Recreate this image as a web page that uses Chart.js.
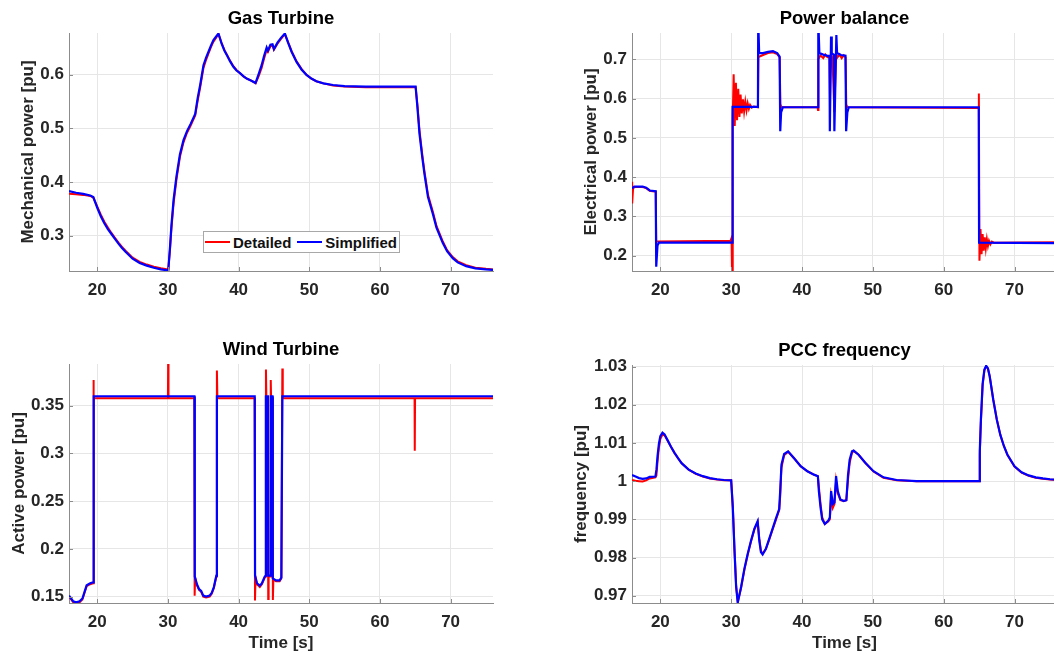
<!DOCTYPE html>
<html>
<head>
<meta charset="utf-8">
<title>Detailed vs simplified model</title>
<script src="https://cdn.jsdelivr.net/npm/chart.js@4.4.1/dist/chart.umd.min.js"></script>
<style>
  html, body { margin: 0; padding: 0; background: #fff; overflow: hidden; }
  body { width: 1054px; height: 655px; position: relative; font-family: "Liberation Sans", Arial, sans-serif; }
  canvas { position: absolute; }
  #legend-gt {
    position: absolute; left: 203px; top: 231px; width: 195px; height: 20px;
    border: 1px solid #a8a8a8; background: #fff;
    display: flex; align-items: center;
    font: bold 15px "Liberation Sans", Arial, sans-serif; color: #111;
  }
  #legend-gt .sw { display: inline-block; width: 25px; height: 2px; margin: 0 3px 0 1px; }
  #legend-gt .item { display: flex; align-items: center; margin-right: 5px; }
</style>
</head>
<body>
<canvas id="chart-gt"  width="527" height="310" style="left:0;top:0"></canvas>
<canvas id="chart-pb"  width="540" height="310" style="left:527px;top:0"></canvas>
<canvas id="chart-wt"  width="527" height="345" style="left:0;top:310px"></canvas>
<canvas id="chart-pcc" width="540" height="345" style="left:527px;top:310px"></canvas>
<div id="legend-gt"></div>

<script>
// --- data (time in s, values in pu) ---

const seriesLabels = ["Detailed", "Simplified"];
const xTicks = [20, 30, 40, 50, 60, 70];

// Gas Turbine
const gtTime = [16, 17, 18, 19, 19.44, 20, 20.5, 21, 21.5, 22, 22.5, 23, 23.5, 24, 25, 26, 27, 28, 29, 30.05,
  30.3, 30.5, 30.8, 31.2, 31.7, 32.2, 32.7, 33.2, 33.86, 34.2, 34.56, 35.03, 35.4, 35.74, 36.1, 36.44, 36.8, 37.15,
  37.6, 38, 38.33, 38.8, 39.26, 39.7, 40.2, 40.7, 41.15, 41.8, 42.4, 42.8, 43.26, 43.6, 43.97, 44.15, 44.5, 44.8,
  45.0, 45.5, 46.0, 46.55, 47.0, 47.5, 48.2, 48.9, 49.6, 50.3, 51.0, 52, 53.36, 55, 58, 65.05, 65.3, 65.6, 66.0,
  66.3, 66.8, 67.5, 68, 68.9, 69.5, 70.3, 71, 72.2, 73.5, 75, 76];
const gtDetailed = [0.378, 0.377, 0.376, 0.374, 0.371, 0.354, 0.339, 0.326, 0.315, 0.305, 0.296, 0.287, 0.279, 0.272, 0.259, 0.251, 0.246, 0.242, 0.239, 0.237,
  0.275, 0.314, 0.360, 0.404, 0.447, 0.474, 0.492, 0.505, 0.524, 0.551, 0.576, 0.613, 0.628, 0.640, 0.652, 0.662, 0.669, 0.676,
  0.659, 0.646, 0.638, 0.626, 0.616, 0.609, 0.603, 0.597, 0.593, 0.589, 0.584, 0.596, 0.613, 0.630, 0.647, 0.643, 0.653, 0.655,
  0.647, 0.658, 0.667, 0.676, 0.661, 0.644, 0.625, 0.611, 0.600, 0.593, 0.588, 0.584, 0.580, 0.578, 0.577, 0.577, 0.545, 0.496, 0.450,
  0.420, 0.376, 0.344, 0.318, 0.289, 0.273, 0.260, 0.252, 0.245, 0.240, 0.238, 0.237];
const gtSimplified = [0.383, 0.380, 0.378, 0.375, 0.372, 0.352, 0.336, 0.323, 0.312, 0.303, 0.294, 0.285, 0.277, 0.270, 0.257, 0.249, 0.244, 0.240, 0.237, 0.235,
  0.280, 0.320, 0.367, 0.410, 0.452, 0.478, 0.495, 0.508, 0.527, 0.556, 0.581, 0.618, 0.632, 0.643, 0.655, 0.665, 0.671, 0.677,
  0.658, 0.645, 0.637, 0.625, 0.615, 0.608, 0.603, 0.597, 0.593, 0.589, 0.585, 0.600, 0.618, 0.635, 0.651, 0.645, 0.656, 0.657,
  0.648, 0.660, 0.669, 0.677, 0.660, 0.643, 0.624, 0.610, 0.600, 0.593, 0.588, 0.584, 0.581, 0.579, 0.578, 0.578, 0.540, 0.490, 0.445,
  0.415, 0.372, 0.340, 0.315, 0.286, 0.271, 0.258, 0.250, 0.243, 0.239, 0.237, 0.236];
const gtTicks = [0.3, 0.4, 0.5, 0.6];

// Power balance
const pbTimeDetailed = [16, 16.02, 16.15, 16.3, 17.5, 18, 18.5, 19.35, 19.42, 19.6, 29.9, 30.05, 30.12, 30.22, 30.35, 30.5,
  30.67, 30.83, 31.0, 31.17, 31.33, 31.5, 31.67, 31.83, 32.0, 32.17, 32.33, 32.5, 32.67, 32.9, 33.2, 33.78, 33.85, 34.5,
  35.2, 35.9, 36.5, 36.84, 36.95, 37.1, 42.2, 42.26, 42.32, 42.6, 43.0, 43.3, 43.6, 43.88, 43.95, 44.1, 44.3, 44.57, 44.8,
  45.0, 45.3, 45.6, 45.9, 46.15, 46.25, 46.4, 64.9, 64.97, 65.05, 65.2, 65.35, 65.5, 65.65, 65.8, 65.95, 66.1, 66.25, 66.4,
  66.6, 66.8, 67.1, 76];
const pbDetailed = [0.388, 0.333, 0.370, 0.375, 0.375, 0.372, 0.365, 0.363, 0.236, 0.236, 0.238, 0.245, 0.160, 0.550, 0.662, 0.530,
  0.640, 0.545, 0.625, 0.553, 0.610, 0.562, 0.598, 0.567, 0.592, 0.570, 0.588, 0.574, 0.584, 0.577, 0.580, 0.578, 0.706, 0.711,
  0.716, 0.718, 0.713, 0.705, 0.586, 0.578, 0.578, 0.571, 0.700, 0.710, 0.703, 0.712, 0.705, 0.705, 0.600, 0.720, 0.700, 0.565, 0.715,
  0.705, 0.712, 0.703, 0.710, 0.705, 0.585, 0.578, 0.576, 0.613, 0.187, 0.268, 0.204, 0.255, 0.213, 0.247, 0.219, 0.242, 0.225, 0.238,
  0.229, 0.236, 0.233, 0.234];
const pbTimeSimplified = [16, 16.3, 17.5, 18, 18.5, 19.35, 19.42, 19.6, 19.8, 30.15, 30.2, 33.78, 33.82, 33.95, 34.5, 35.2,
  35.9, 36.5, 36.84, 36.93, 37.05, 37.3, 42.26, 42.3, 42.45, 43.0, 43.6, 43.88, 43.93, 44.1, 44.2, 44.5, 44.57, 44.85, 44.95,
  45.5, 46.14, 46.23, 46.4, 46.6, 64.95, 65.0, 76];
const pbSimplified = [0.371, 0.376, 0.376, 0.373, 0.366, 0.364, 0.172, 0.226, 0.233, 0.233, 0.579, 0.579, 0.800, 0.716, 0.716, 0.719,
  0.721, 0.716, 0.707, 0.517, 0.565, 0.578, 0.578, 0.800, 0.716, 0.712, 0.709, 0.709, 0.517, 0.758, 0.715, 0.712, 0.517, 0.762, 0.716,
  0.711, 0.709, 0.517, 0.565, 0.578, 0.578, 0.233, 0.232];
const pbTicks = [0.2, 0.3, 0.4, 0.5, 0.6, 0.7];

// Wind Turbine
const wtTimeDetailed = [16, 16.3, 16.6, 17.0, 17.5, 17.9, 18.2, 18.5, 19.0, 19.4, 19.45, 19.52, 30.0, 30.03, 30.08, 33.75,
  33.78, 33.85, 34.1, 34.4, 34.7, 35.0, 35.4, 35.9, 36.2, 36.5, 36.85, 36.93, 37.0, 42.28, 42.32, 42.4, 42.6, 43.0, 43.3,
  43.7, 43.84, 43.87, 43.93, 44.15, 44.19, 44.25, 44.52, 44.55, 44.6, 44.8, 44.85, 44.92, 45.3, 45.8, 46.05, 46.19, 46.25,
  64.9, 64.93, 64.97, 76];
const wtDetailed = [0.150, 0.147, 0.144, 0.143, 0.144, 0.147, 0.154, 0.161, 0.163, 0.164, 0.377, 0.358, 0.358, 0.394, 0.358, 0.358,
  0.151, 0.170, 0.162, 0.157, 0.155, 0.150, 0.149, 0.150, 0.153, 0.159, 0.171, 0.387, 0.358, 0.358, 0.146, 0.170, 0.163, 0.160, 0.163,
  0.170, 0.171, 0.388, 0.358, 0.358, 0.1476, 0.171, 0.171, 0.377, 0.358, 0.358, 0.1465, 0.168, 0.166, 0.166, 0.169, 0.389, 0.358,
  0.358, 0.303, 0.358, 0.358];
const wtTimeSimplified = [16, 16.3, 16.6, 17.0, 17.5, 17.9, 18.2, 18.5, 19.0, 19.4, 19.5, 33.75, 33.8, 34.1, 34.4, 34.7, 35.0,
  35.4, 35.9, 36.2, 36.5, 36.85, 36.93, 42.28, 42.33, 42.6, 43.0, 43.3, 43.7, 43.82, 43.86, 44.15, 44.19, 44.52, 44.56, 44.8,
  44.84, 45.3, 45.8, 46.05, 46.19, 76];
const wtSimplified = [0.151, 0.148, 0.145, 0.144, 0.145, 0.148, 0.155, 0.162, 0.164, 0.165, 0.360, 0.360, 0.171, 0.163, 0.158, 0.156, 0.151,
  0.150, 0.151, 0.154, 0.160, 0.172, 0.360, 0.360, 0.172, 0.164, 0.1615, 0.164, 0.171, 0.172, 0.360, 0.360, 0.172, 0.172, 0.360, 0.360,
  0.169, 0.167, 0.167, 0.170, 0.360, 0.360];
const wtTicks = [0.15, 0.2, 0.25, 0.3, 0.35];

// PCC frequency
const pccTime = [16, 16.5, 17, 17.5, 18, 18.5, 19.3, 19.45, 19.6, 19.8, 20.0, 20.3, 20.6, 21.0, 21.5, 22, 22.5, 23, 24, 25,
  26, 27, 28, 29, 30.0, 30.23, 30.47, 30.7, 30.93, 31.4, 31.87, 32.34, 32.8, 33.27, 33.74, 33.97, 34.2, 34.44, 34.9, 35.37,
  35.84, 36.3, 36.78, 36.92, 37.1, 37.48, 38.04, 38.88, 39.81, 40.75, 41.68, 42.24, 42.38, 42.62, 42.85, 43.22, 43.69, 43.93,
  44.11, 44.35, 44.58, 44.81, 45.05, 45.42, 45.89, 46.26, 46.5, 46.73, 47.06, 47.29, 47.99, 48.93, 50.09, 51.5, 53.36, 56.17,
  65.0, 65.1, 65.25, 65.5, 65.75, 66.0, 66.25, 66.5, 67.0, 67.5, 68.0, 68.5, 69.0, 70.0, 71.0, 72.0, 73.0, 74.0, 75.0, 76.0];
const pccDetailed = [1.0003, 1.0001, 1.0000, 0.9999, 1.0002, 1.0007, 1.0010, 1.0015, 1.0050, 1.0088, 1.0110, 1.0122, 1.0120, 1.0107, 1.0090, 1.0074, 1.0060, 1.0047, 1.0030, 1.0019,
  1.0012, 1.0007, 1.0004, 1.0002, 1.0002, 0.9935, 0.9822, 0.9727, 0.9684, 0.9720, 0.9768, 0.9808, 0.9842, 0.9873, 0.9893, 0.9850, 0.9818, 0.9810, 0.9822, 0.9847,
  0.9873, 0.9898, 0.9924, 0.9960, 1.0035, 1.0068, 1.0077, 1.0060, 1.0039, 1.0026, 1.0017, 1.0013, 0.9985, 0.9940, 0.9905, 0.9888, 0.9894, 0.9900,
  0.9960, 0.9930, 0.9940, 1.0000, 0.9968, 0.9950, 0.9948, 0.9950, 1.0005, 1.0048, 1.0074, 1.0079, 1.0069, 1.0048, 1.0025, 1.0009, 1.0002, 1.0000,
  1.0000, 1.0070, 1.0150, 1.0250, 1.0290, 1.0300, 1.0295, 1.0275, 1.0214, 1.0162, 1.0121, 1.0092, 1.0069, 1.0038, 1.0022, 1.0014, 1.0009, 1.0006, 1.0004, 1.0003];
const pccSimplified = [1.0016, 1.0012, 1.0008, 1.0006, 1.0007, 1.0011, 1.0012, 1.0030, 1.0065, 1.0098, 1.0118, 1.0127, 1.0122, 1.0108, 1.0090, 1.0074, 1.0060, 1.0047, 1.0030, 1.0020,
  1.0013, 1.0008, 1.0005, 1.0003, 1.0002, 0.9931, 0.9818, 0.9723, 0.9682, 0.9723, 0.9771, 0.9810, 0.9844, 0.9875, 0.9895, 0.9844, 0.9814, 0.9808, 0.9823, 0.9849,
  0.9875, 0.9901, 0.9927, 0.9974, 1.0043, 1.0071, 1.0078, 1.0060, 1.0039, 1.0026, 1.0017, 1.0013, 0.9974, 0.9931, 0.9900, 0.9888, 0.9896, 0.9905,
  0.9974, 0.9940, 0.9944, 1.0013, 0.9974, 0.9952, 0.9948, 0.9950, 1.0017, 1.0056, 1.0078, 1.0080, 1.0069, 1.0048, 1.0026, 1.0010, 1.0003, 1.0000,
  1.0000, 1.0080, 1.0160, 1.0255, 1.0292, 1.0302, 1.0295, 1.0274, 1.0213, 1.0161, 1.0121, 1.0092, 1.0069, 1.0039, 1.0023, 1.0015, 1.0010, 1.0007, 1.0005, 1.0004];
const pccTicks = [0.97, 0.98, 0.99, 1, 1.01, 1.02, 1.03];

// --- styling ---
const FONT = '"Liberation Sans", Arial, Helvetica, sans-serif';
const RED = "#ff0000";
const BLUE = "#0000ff";
const TEXT = "#262626";
const AXIS = "#8c8c8c";
const GRID = "#e6e6e6";

function pts(xs, ys) {
  return xs.map((x, i) => ({ x, y: ys[i] }));
}

// MATLAB-style tick marks pointing into the axes
const innerTicks = {
  id: "innerTicks",
  afterDraw(chart) {
    const { ctx, chartArea: a, scales: { x, y } } = chart;
    ctx.save();
    ctx.strokeStyle = AXIS;
    ctx.lineWidth = 1;
    ctx.beginPath();
    x.ticks.forEach(t => {
      const px = Math.round(x.getPixelForValue(t.value)) + 0.5;
      ctx.moveTo(px, a.bottom); ctx.lineTo(px, a.bottom - 4);
    });
    y.ticks.forEach(t => {
      const py = Math.round(y.getPixelForValue(t.value)) + 0.5;
      ctx.moveTo(a.left, py); ctx.lineTo(a.left + 4, py);
    });
    ctx.stroke();
    ctx.restore();
  },
};

function makeChart(id, c) {
  return new Chart(document.getElementById(id), {
    type: "line",
    data: {
      datasets: [
        // red underneath, blue drawn on top (lower order = drawn last)
        { label: seriesLabels[0], data: pts(c.tRed, c.red), borderColor: RED, borderWidth: 2,
          pointRadius: 0, tension: 0, fill: false, order: 2 },
        { label: seriesLabels[1], data: pts(c.tBlue, c.blue), borderColor: BLUE, borderWidth: 2.2,
          pointRadius: 0, tension: 0, fill: false, order: 1 },
      ],
    },
    options: {
      responsive: false,
      animation: false,
      devicePixelRatio: 1,
      events: [],
      layout: { padding: { left: 0, right: c.padRight, top: 0, bottom: 0 } },
      plugins: {
        legend: { display: false },
        tooltip: { enabled: false },
        title: {
          display: true,
          text: c.title,
          fullSize: false,
          color: "#000",
          font: { family: FONT, size: 18.5, weight: "bold" },
          padding: { top: c.titleTop, bottom: c.titleBottom },
        },
      },
      scales: {
        x: {
          type: "linear",
          min: 16,
          max: 76,
          afterBuildTicks: s => { s.ticks = xTicks.map(v => ({ value: v })); },
          afterFit: s => { s.height = c.xHeight; },
          grid: { color: GRID, drawTicks: false },
          border: { color: AXIS, width: 1 },
          ticks: { color: TEXT, padding: 9.5, maxRotation: 0, font: { family: FONT, size: 17, weight: "bold" } },
          title: {
            display: !!c.xTitle,
            text: c.xTitle || "",
            color: TEXT,
            font: { family: FONT, size: 17, weight: "bold" },
            padding: { top: 0, bottom: 1 },
          },
        },
        y: {
          type: "linear",
          min: c.yMin,
          max: c.yMax,
          afterBuildTicks: s => { s.ticks = c.yTicks.map(v => ({ value: v })); },
          afterFit: s => { s.width = c.yWidth; },
          grid: { color: GRID, drawTicks: false },
          border: { color: AXIS, width: 1 },
          ticks: {
            color: TEXT, padding: 5,
            font: { family: FONT, size: 17, weight: "bold" },
            callback: v => String(+Number(v).toFixed(4)),
          },
          title: {
            display: true,
            text: c.yTitle,
            color: TEXT,
            font: { family: FONT, size: 17, weight: "bold" },
            padding: { top: c.yTitlePad, bottom: 0 },
          },
        },
      },
    },
    plugins: [innerTicks],
  });
}

const gtChart = makeChart("chart-gt", {
  title: "Gas Turbine", yTitle: "Mechanical power [pu]",
  tRed: gtTime, red: gtDetailed, tBlue: gtTime, blue: gtSimplified,
  yMin: 0.234, yMax: 0.678, yTicks: gtTicks,
  yWidth: 69, padRight: 34, xHeight: 39, titleTop: 8.2, titleBottom: 2.6, yTitlePad: 17.8,
});

makeChart("chart-pb", {
  title: "Power balance", yTitle: "Electrical power [pu]",
  tRed: pbTimeDetailed, red: pbDetailed, tBlue: pbTimeSimplified, blue: pbSimplified,
  yMin: 0.161, yMax: 0.767, yTicks: pbTicks,
  yWidth: 105, padRight: 10, xHeight: 39, titleTop: 8.1, titleBottom: 2.7, yTitlePad: 53.8,
});

makeChart("chart-wt", {
  title: "Wind Turbine", yTitle: "Active power [pu]", xTitle: "Time [s]",
  tRed: wtTimeDetailed, red: wtDetailed, tBlue: wtTimeSimplified, blue: wtSimplified,
  yMin: 0.1433, yMax: 0.3938, yTicks: wtTicks,
  yWidth: 69, padRight: 34, xHeight: 52, titleTop: 28.9, titleBottom: 2.9, yTitlePad: 8.8,
});

makeChart("chart-pcc", {
  title: "PCC frequency", yTitle: "frequency [pu]", xTitle: "Time [s]",
  tRed: pccTime, red: pccDetailed, tBlue: pccTime, blue: pccSimplified,
  yMin: 0.9681, yMax: 1.0304, yTicks: pccTicks,
  yWidth: 105, padRight: 10, xHeight: 52, titleTop: 29.7, titleBottom: 3.1, yTitlePad: 43.8,
});

// legend box inside the gas turbine axes
document.getElementById("legend-gt").innerHTML = gtChart.data.datasets.map(ds =>
  `<span class="item"><span class="sw" style="background:${ds.borderColor}"></span>${ds.label}</span>`
).join("");
</script>
</body>
</html>
